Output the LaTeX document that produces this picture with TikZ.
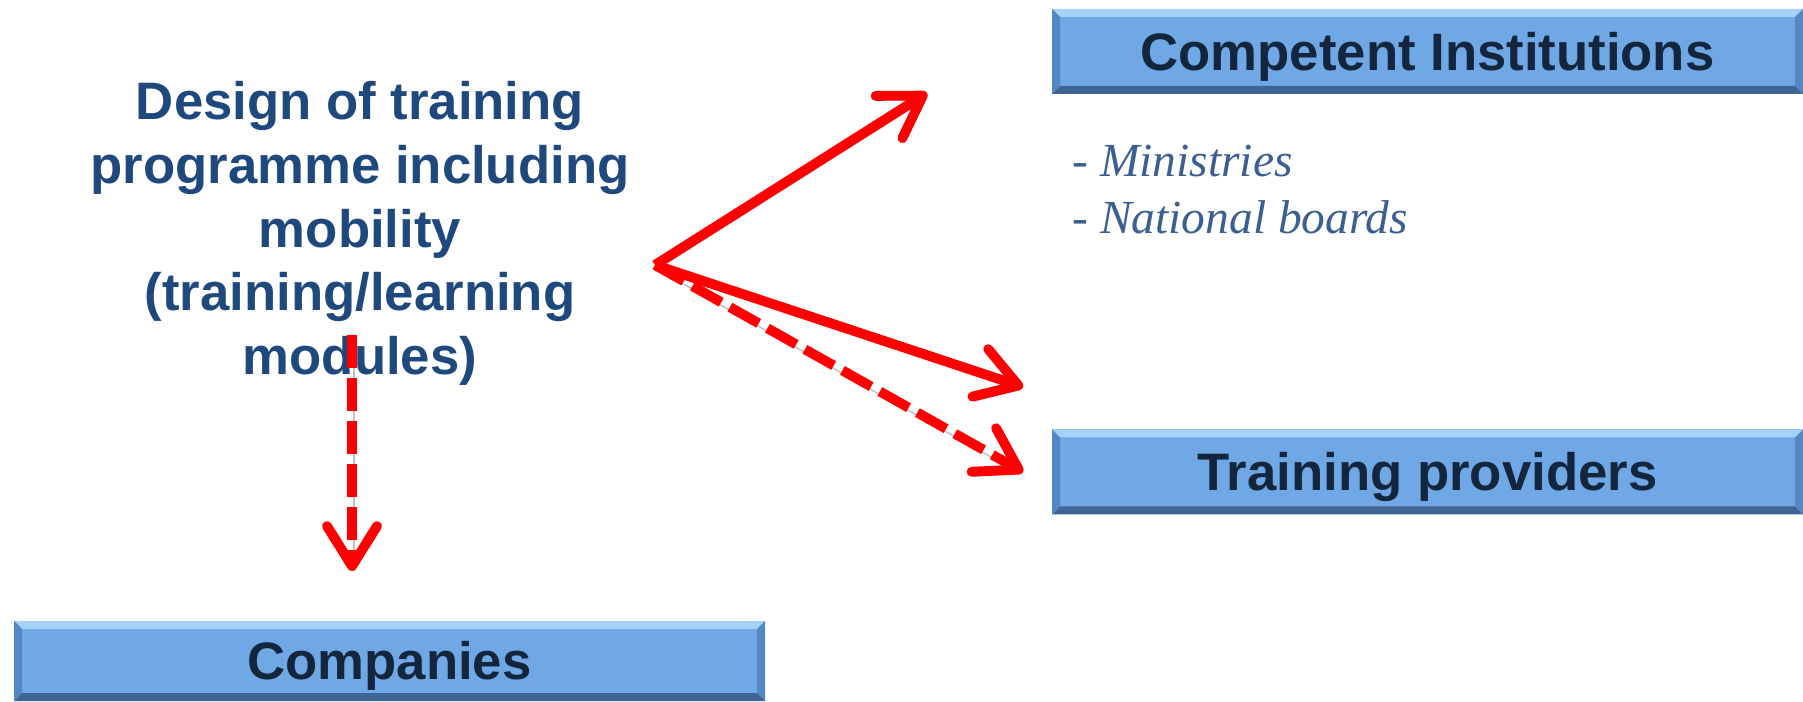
\documentclass[tikz,border=0pt]{standalone}
\usepackage{fontspec}
\setmainfont{Liberation Sans}
\newfontfamily\notefont{Liberation Serif}
\usetikzlibrary{arrows.meta}

\definecolor{boxblue}{RGB}{111,168,228}
\definecolor{bevlight}{RGB}{165,210,248}
\definecolor{bevdark}{RGB}{62,100,150}
\definecolor{bevside}{RGB}{85,135,195}
\definecolor{boxtext}{RGB}{20,38,62}
\definecolor{titleblue}{RGB}{31,73,125}
\definecolor{noteblue}{RGB}{60,95,145}
\definecolor{arrowred}{RGB}{255,0,0}

\tikzset{
  actor/.style={fill=boxblue, minimum width=7.51cm, minimum height=0.85cm, inner sep=0pt,
    text height=11pt, text depth=0.3pt,
    text=boxtext, font=\bfseries\fontsize{15}{18}\selectfont,
    path picture={
      \fill[bevlight] (path picture bounding box.north west) -- (path picture bounding box.north east)
        -- ([shift={(-0.08,-0.08)}]path picture bounding box.north east) -- ([shift={(0.08,-0.08)}]path picture bounding box.north west) -- cycle;
      \fill[bevdark] (path picture bounding box.south west) -- (path picture bounding box.south east)
        -- ([shift={(-0.08,0.08)}]path picture bounding box.south east) -- ([shift={(0.08,0.08)}]path picture bounding box.south west) -- cycle;
      \fill[bevside] (path picture bounding box.north west) -- ([shift={(0.08,-0.08)}]path picture bounding box.north west)
        -- ([shift={(0.08,0.08)}]path picture bounding box.south west) -- (path picture bounding box.south west) -- cycle;
      \fill[bevside] (path picture bounding box.north east) -- ([shift={(-0.08,-0.08)}]path picture bounding box.north east)
        -- ([shift={(-0.08,0.08)}]path picture bounding box.south east) -- (path picture bounding box.south east) -- cycle;
    }},
  flow/.style={arrowred, line width=2.8pt,
    -{Straight Barb[length=4mm,width=5mm,line cap=round,line join=round]},
    preaction={draw=black!25, transform canvas={shift={(0.6pt,-1.2pt)}}}},
  flowdash/.style={flow, dash pattern=on 0.33cm off 0.1cm},
}

\begin{document}
\begin{tikzpicture}
\useasboundingbox (0,0) rectangle (18.03,7.01);

\node[actor] (inst) at (14.275,6.495) {Competent Institutions};
\node[actor] (prov) at (14.275,2.29) {Training providers};
\node[actor, minimum height=0.80cm] (firms) at (3.895,0.40) {Companies};

\node[align=center, text=titleblue, font=\bfseries\fontsize{15}{18.1}\selectfont] (design) at (3.60,4.675)
  {Design of training\\programme including\\mobility\\(training/learning\\modules)};

\node[anchor=west, align=left, text=noteblue, font=\notefont\fontsize{13.5}{16.2}\selectfont] (bodies) at (10.60,5.115)
  {- \textit{Ministries}\\- \textit{National boards}};

%---------------------------------

\coordinate (hub) at (6.55,4.36);
\coordinate (toinst) at (9.27,6.08);
\coordinate (toprov) at (10.23,3.14);
\coordinate (toprovb) at (10.23,2.29);
\coordinate (down) at (3.52,3.66);
\coordinate (tofirms) at (3.52,1.30);

\draw[flowdash] (hub) -- (toprovb);
\draw[flow] (hub) -- (toinst);
\draw[flow] (hub) -- (toprov);
\draw[flowdash] (down) -- (tofirms);
\end{tikzpicture}
\end{document}
